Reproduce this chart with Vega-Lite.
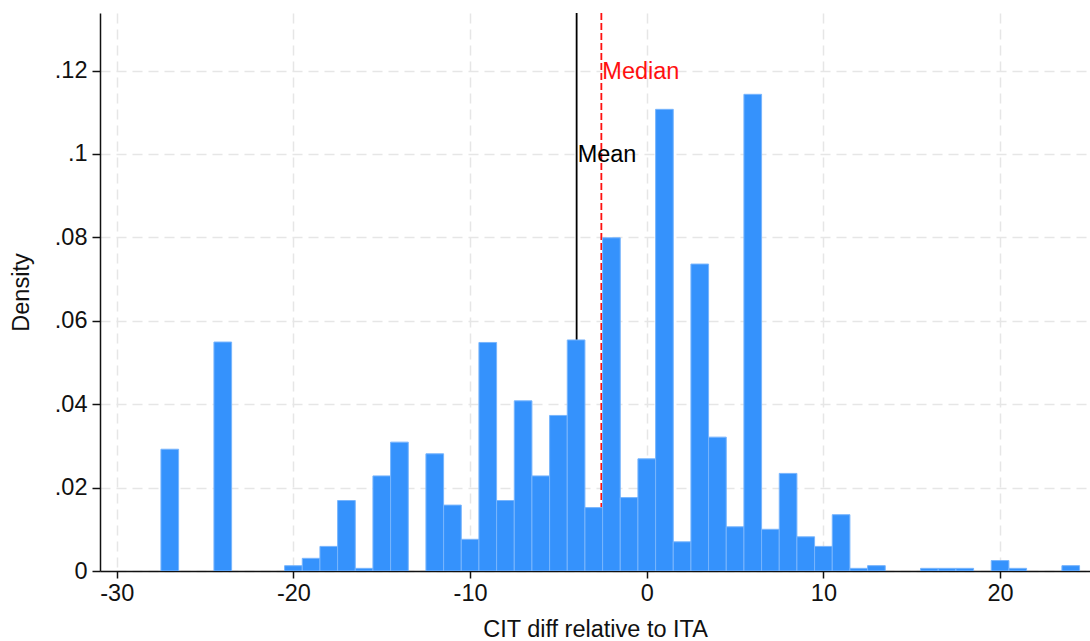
{
  "$schema": "https://vega.github.io/schema/vega-lite/v6.json",
  "autosize": "none",
  "width": 990,
  "height": 558,
  "padding": {"left": 100, "top": 13, "right": 0, "bottom": 70},
  "background": "white",
  "config": {
    "view": {"stroke": null},
    "font": "Liberation Sans",
    "axis": {
      "labelFont": "Liberation Sans",
      "titleFont": "Liberation Sans",
      "labelFontSize": 23.5,
      "titleFontSize": 23.5,
      "labelColor": "#111111",
      "titleColor": "#111111",
      "titleFontWeight": "normal",
      "domainColor": "#111111",
      "domainWidth": 1.5,
      "tickColor": "#111111",
      "tickWidth": 1.5,
      "gridColor": "#e6e6e6",
      "gridWidth": 1.5,
      "gridDash": [10, 6]
    }
  },
  "datasets": {
    "bins": [
      {"start": -27.5, "end": -26.5, "density": 0.0292},
      {"start": -24.5, "end": -23.5, "density": 0.0549},
      {"start": -20.5, "end": -19.5, "density": 0.00127},
      {"start": -19.5, "end": -18.5, "density": 0.00304},
      {"start": -18.5, "end": -17.5, "density": 0.0059},
      {"start": -17.5, "end": -16.5, "density": 0.0169},
      {"start": -16.5, "end": -15.5, "density": 0.00064},
      {"start": -15.5, "end": -14.5, "density": 0.0228},
      {"start": -14.5, "end": -13.5, "density": 0.0309},
      {"start": -12.5, "end": -11.5, "density": 0.0281},
      {"start": -11.5, "end": -10.5, "density": 0.0158},
      {"start": -10.5, "end": -9.5, "density": 0.0076},
      {"start": -9.5, "end": -8.5, "density": 0.0548},
      {"start": -8.5, "end": -7.5, "density": 0.0169},
      {"start": -7.5, "end": -6.5, "density": 0.0408},
      {"start": -6.5, "end": -5.5, "density": 0.0228},
      {"start": -5.5, "end": -4.5, "density": 0.0373},
      {"start": -4.5, "end": -3.5, "density": 0.0554},
      {"start": -3.5, "end": -2.5, "density": 0.0152},
      {"start": -2.5, "end": -1.5, "density": 0.0799},
      {"start": -1.5, "end": -0.5, "density": 0.0176},
      {"start": -0.5, "end": 0.5, "density": 0.0269},
      {"start": 0.5, "end": 1.5, "density": 0.1107},
      {"start": 1.5, "end": 2.5, "density": 0.0070},
      {"start": 2.5, "end": 3.5, "density": 0.0736},
      {"start": 3.5, "end": 4.5, "density": 0.0321},
      {"start": 4.5, "end": 5.5, "density": 0.0106},
      {"start": 5.5, "end": 6.5, "density": 0.1143},
      {"start": 6.5, "end": 7.5, "density": 0.0100},
      {"start": 7.5, "end": 8.5, "density": 0.0234},
      {"start": 8.5, "end": 9.5, "density": 0.0082},
      {"start": 9.5, "end": 10.5, "density": 0.0059},
      {"start": 10.5, "end": 11.5, "density": 0.0135},
      {"start": 11.5, "end": 12.5, "density": 0.00064},
      {"start": 12.5, "end": 13.5, "density": 0.00128},
      {"start": 15.5, "end": 16.5, "density": 0.00064},
      {"start": 16.5, "end": 17.5, "density": 0.00064},
      {"start": 17.5, "end": 18.5, "density": 0.00064},
      {"start": 19.5, "end": 20.5, "density": 0.0025},
      {"start": 20.5, "end": 21.5, "density": 0.00064},
      {"start": 23.5, "end": 24.5, "density": 0.00128}
    ],
    "stats": [
      {"stat": "Mean", "value": -3.97, "labely": 0.1},
      {"stat": "Median", "value": -2.57, "labely": 0.12}
    ]
  },
  "layer": [
    {
      "data": {"name": "stats"},
      "transform": [{"filter": "datum.stat == 'Mean'"}],
      "mark": {"type": "rule", "color": "#000000", "strokeWidth": 1.8},
      "encoding": {
        "x": {
          "field": "value",
          "type": "quantitative",
          "scale": {"domain": [-30.95, 25.09], "nice": false, "zero": false},
          "axis": {
            "title": "CIT diff relative to ITA",
            "values": [-30, -20, -10, 0, 10, 20],
            "labelExpr": "'' + datum.value",
            "tickSize": 7,
            "labelPadding": 3,
            "titlePadding": 13,
            "grid": true
          }
        }
      }
    },
    {
      "data": {"name": "stats"},
      "transform": [{"filter": "datum.stat == 'Median'"}],
      "mark": {"type": "rule", "color": "#ff1010", "strokeWidth": 1.8, "strokeDash": [7, 3]},
      "encoding": {
        "x": {"field": "value", "type": "quantitative"}
      }
    },
    {
      "data": {"name": "bins"},
      "mark": {"type": "rect", "fill": "#3592fc", "stroke": "#78b5fd", "strokeWidth": 1, "clip": true},
      "encoding": {
        "x": {"field": "start", "type": "quantitative"},
        "x2": {"field": "end"},
        "y": {
          "field": "density",
          "type": "quantitative",
          "scale": {"domain": [0, 0.1338], "nice": false},
          "axis": {
            "title": "Density",
            "values": [0, 0.02, 0.04, 0.06, 0.08, 0.1, 0.12],
            "labelExpr": "datum.value == 0 ? '0' : slice(format(datum.value, '.2~f'), 1)",
            "tickSize": 8,
            "labelPadding": 5,
            "titlePadding": 21,
            "grid": true
          }
        },
        "y2": {"datum": 0}
      }
    },
    {
      "data": {"name": "stats"},
      "mark": {"type": "text", "align": "left", "baseline": "middle", "dx": 1, "dy": 1.5, "fontSize": 23.5, "font": "Liberation Sans"},
      "encoding": {
        "x": {"field": "value", "type": "quantitative"},
        "y": {"field": "labely", "type": "quantitative"},
        "text": {"field": "stat"},
        "color": {
          "field": "stat",
          "type": "nominal",
          "scale": {"domain": ["Mean", "Median"], "range": ["#000000", "#ff1010"]},
          "legend": null
        }
      }
    }
  ]
}
